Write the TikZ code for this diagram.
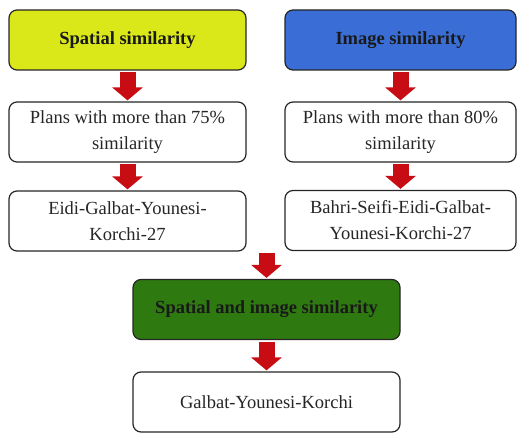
\documentclass[tikz,border=0pt]{standalone}
\usepackage{fontspec}
\setmainfont{Liberation Serif}
\usetikzlibrary{arrows.meta}
\definecolor{ylw}{RGB}{218,232,26}
\definecolor{blu}{RGB}{58,110,214}
\definecolor{grn}{RGB}{46,122,16}
\definecolor{arr}{RGB}{200,12,20}
\begin{document}
\begin{tikzpicture}[x=1pt,y=-1pt,
  box/.style={draw=black!85, line width=1.2pt, rounded corners=8pt, minimum height=60pt,
    align=center, text=black!85, font=\fontsize{18.5}{26}\selectfont, inner sep=0pt},
  lbox/.style={box, minimum width=237pt},
  rbox/.style={box, minimum width=231pt},
  cbox/.style={box, minimum width=267pt},
  head/.style={font=\bfseries\fontsize{18.5}{22}\selectfont, text=black!90},
  blockarrow/.style={draw=arr, line width=16pt, line cap=butt,
    -{Triangle[width=30pt,length=13pt]}, shorten <=1.5pt, shorten >=1pt}
]
\useasboundingbox (0,0) rectangle (519,433);
\node[lbox, fill=ylw, head] (s) at (127.5,40) {Spatial similarity};
\node[rbox, fill=blu, head] (i) at (400.5,40) {Image similarity};
\node[lbox, fill=white] (p1) at (127.5,132) {Plans with more than 75\%\\similarity};
\node[rbox, fill=white] (p2) at (400.5,132) {Plans with more than 80\%\\similarity};
\node[lbox, fill=white] (e) at (127.5,221) {Eidi-Galbat-Younesi-\\Korchi-27};
\node[rbox, fill=white] (b) at (400.5,220.5) {Bahri-Seifi-Eidi-Galbat-\\Younesi-Korchi-27};
\node[cbox, fill=grn, head] (g) at (266.5,309.5) {Spatial and image similarity};
\node[cbox, fill=white] (f) at (266.5,402) {Galbat-Younesi-Korchi};
\coordinate (m) at (g.north |- e.south);
\draw[blockarrow] (s) -- (p1);
\draw[blockarrow] (i) -- (p2);
\draw[blockarrow] (p1) -- (e);
\draw[blockarrow] (p2) -- (b);
\draw[blockarrow] (m) -- (g);
\draw[blockarrow] (g) -- (f);
\end{tikzpicture}
\end{document}
